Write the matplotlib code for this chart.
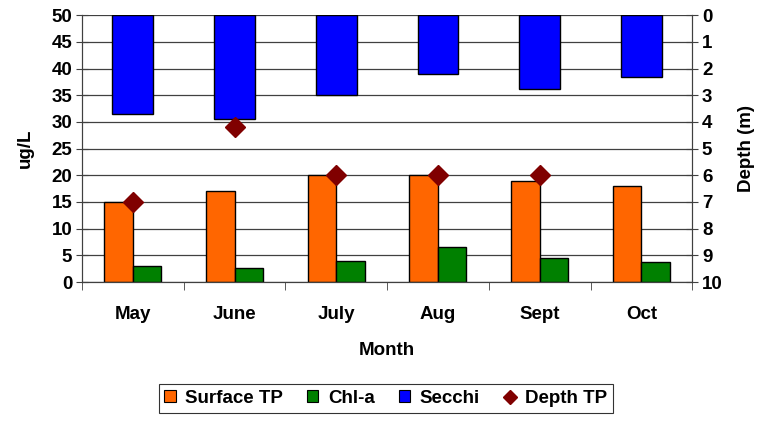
import numpy as np
import matplotlib
matplotlib.use('Agg')
import matplotlib.pyplot as plt
from matplotlib.patches import Patch
from matplotlib.lines import Line2D

plt.rcParams['font.family'] = ['Liberation Sans', 'DejaVu Sans']
plt.rcParams['font.weight'] = 'bold'

months = ['May', 'June', 'July', 'Aug', 'Sept', 'Oct']
surface_tp = [15, 17, 20, 20, 19, 18]      # ug/L
chl_a = [3.1, 2.6, 4.0, 6.5, 4.5, 3.7]     # ug/L
secchi = [3.7, 3.9, 3.0, 2.2, 2.75, 2.3]   # m
depth_tp = [7.0, 4.2, 6.0, 6.0, 6.0, np.nan]  # m

fs = 13.5
fig = plt.figure(figsize=(7.59, 4.21), dpi=100)
ax = fig.add_axes([0.108, 0.330, 0.804, 0.634])
ax2 = ax.twinx()

x = np.arange(len(months))
w = 0.28

ax.bar(x - w/2, surface_tp, w, color='#FF6600', edgecolor='black', lw=1, zorder=2)
ax.bar(x + w/2, chl_a, w, color='#008000', edgecolor='black', lw=1, zorder=2)
ax.set_ylim(0, 50)
ax.set_yticks(range(0, 51, 5))
ax.set_xlim(-0.5, len(months) - 0.5)
ax.set_axisbelow(True)
ax.yaxis.grid(True, color='#404040', lw=0.9)

ax2.bar(x, secchi, 0.40, color='#0000FF', edgecolor='black', lw=1)
ax2.plot(x, depth_tp, 'D', color='#800000', ms=10, zorder=5)
ax2.set_ylim(10, 0)
ax2.set_yticks(range(0, 11))

# month labels centred, tick marks between categories
ax.set_xticks(x)
ax.set_xticklabels(months, fontsize=fs, fontweight='bold')
ax.tick_params(axis='x', length=0, pad=17)
ax.set_xticks(np.arange(-0.5, len(months)), minor=True)
ax.tick_params(axis='x', which='minor', length=6, direction='out', color='#404040')

ax.tick_params(axis='y', labelsize=fs, direction='inout', length=8, color='#404040', pad=3)
ax2.tick_params(axis='y', labelsize=fs, direction='inout', length=8, color='#404040', pad=3)
for a in (ax, ax2):
    a.spines['top'].set_visible(False)
    for s in ('left', 'right', 'bottom'):
        a.spines[s].set_color('#404040')
    for lab in a.get_yticklabels():
        lab.set_fontweight('bold')

ax.set_xlabel('Month', fontsize=fs, fontweight='bold', labelpad=14)
ax.set_ylabel('ug/L', fontsize=fs, fontweight='bold', labelpad=13)
ax2.set_ylabel('Depth (m)', fontsize=fs, fontweight='bold', labelpad=11)

handles = [Patch(facecolor='#FF6600', edgecolor='black', lw=0.8),
           Patch(facecolor='#008000', edgecolor='black', lw=0.8),
           Patch(facecolor='#0000FF', edgecolor='black', lw=0.8),
           Line2D([], [], marker='D', color='#800000', ls='none', ms=7)]
leg = fig.legend(handles, ['Surface TP', 'Chl-a', 'Secchi', 'Depth TP'],
                 loc='upper center', bbox_to_anchor=(0.508, 0.087), ncol=4,
                 fontsize=fs, frameon=True, fancybox=False,
                 handlelength=0.6, handleheight=0.6, handletextpad=0.5,
                 columnspacing=1.3, borderpad=0.3, borderaxespad=0)
leg.get_frame().set_edgecolor('black')
leg.get_frame().set_linewidth(0.8)
for t in leg.get_texts():
    t.set_fontweight('bold')

fig.savefig('out.png', dpi=100)
